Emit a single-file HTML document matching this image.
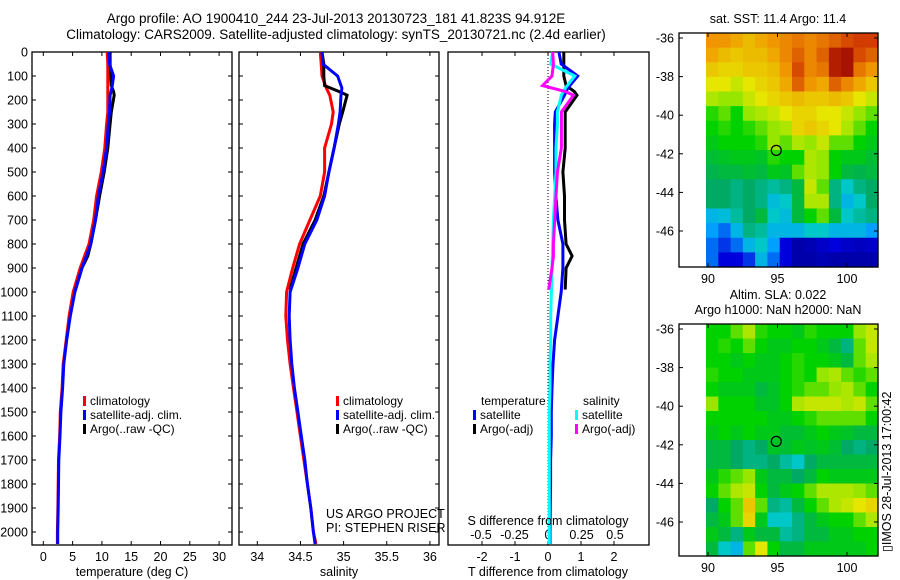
<!DOCTYPE html>
<html><head><meta charset="utf-8"><style>
html,body{margin:0;padding:0;background:#fff;}
svg{display:block;font-family:"Liberation Sans",sans-serif;}
text{fill:#000;}
</style></head><body>
<svg id="fig" width="900" height="580" viewBox="0 0 900 580">
<text x="336" y="23" font-size="13.5" text-anchor="middle">Argo profile: AO 1900410_244 23-Jul-2013 20130723_181 41.823S 94.912E</text>
<text x="336" y="39" font-size="13.5" text-anchor="middle">Climatology: CARS2009. Satellite-adjusted climatology: synTS_20130721.nc (2.4d earlier)</text>
<g id="p1"></g>
<g id="p2"></g>
<g id="p3"></g>
<g id="m1"></g>
<g id="m2"></g>
<text x="778" y="23" font-size="12.5" text-anchor="middle">sat. SST: 11.4 Argo: 11.4</text>
<text x="778" y="299" font-size="12.5" text-anchor="middle">Altim. SLA: 0.022</text>
<text x="778" y="314" font-size="12.5" text-anchor="middle">Argo h1000: NaN h2000: NaN</text>
<text transform="translate(891,552) rotate(-90)" font-size="12.5">▯IMOS 28-Jul-2013 17:00:42</text>
<text x="326" y="518" font-size="12.5">US ARGO PROJECT</text>
<text x="326" y="532" font-size="12.5">PI: STEPHEN RISER</text>
</svg>
<script>
// ---- data ----
const depthTicks=[0,100,200,300,400,500,600,700,800,900,1000,1100,1200,1300,1400,1500,1600,1700,1800,1900,2000];
const tempTicks=[0,5,10,15,20,25,30];
const salTicks=[34,34.5,35,35.5,36];
const tdiffTicks=[-2,-1,0,1,2];
const sdiffTicks=[-0.5,-0.25,0,0.25,0.5];
const climDepth=[0,50,100,150,180,250,300,400,500,600,700,800,900,1000,1100,1200,1300,1400,1500,1600,1700,1800,1900,2000,2050];
const climTemp=[10.9,11.0,11.0,11.0,11.0,11.0,10.8,10.5,9.9,9.1,8.6,7.8,6.3,5.1,4.4,3.9,3.4,3.2,2.9,2.8,2.6,2.55,2.5,2.4,2.4];
const satTemp=[11.2,11.3,12.0,11.7,11.4,11.3,11.1,10.8,10.2,9.4,8.9,8.1,6.6,5.4,4.6,4.0,3.5,3.3,3.0,2.85,2.65,2.6,2.55,2.45,2.45];
const climSal=[34.73,34.74,34.75,34.80,34.84,34.88,34.86,34.78,34.78,34.73,34.61,34.49,34.41,34.34,34.33,34.35,34.38,34.42,34.46,34.50,34.54,34.58,34.62,34.65,34.68];
const satSal=[34.75,34.76,34.93,34.98,34.97,34.96,34.94,34.89,34.83,34.78,34.69,34.55,34.47,34.38,34.37,34.38,34.40,34.43,34.47,34.51,34.55,34.58,34.62,34.65,34.67];
const argoDepth=[0,50,100,140,165,180,250,300,400,500,600,700,800,850,900,990];
const argoTemp=[11.4,11.4,11.5,11.6,12.0,12.1,11.6,11.4,11.0,10.4,9.6,8.9,8.1,7.6,6.6,5.5];
const argoSal=[34.75,34.77,34.77,34.78,34.95,35.04,34.99,34.95,34.89,34.83,34.77,34.67,34.53,34.49,34.45,34.38];
const satDiffT=[0.33,0.4,0.9,0.6,0.5,0.22,0.2,0.2,0.2,0.24,0.3,0.45,0.45,0.4,0.3,0.2,0.15,0.12,0.1,0.1,0.08,0.08,0.07,0.06,0.06];
const argoDiffT=[0.48,0.48,0.48,0.55,0.8,0.88,0.52,0.52,0.52,0.45,0.5,0.5,0.55,0.73,0.55,0.52];
const satDiffS=[0.035,0.02,0.2,0.13,0.1,0.07,0.07,0.06,0.06,0.05,0.04,0.035,0.03,0.025,0.02,0.02,0.015,0.015,0.01,0.01,0.01,0.01,0.01,0.01,0.01];
const argoDiffS=[0.035,0.04,0.03,-0.04,0.13,0.19,0.1,0.1,0.1,0.07,0.06,0.05,0.04,0.04,0.03,0.005];
const sstGrid=[
[.78,.78,.75,.72,.75,.78,.8,.82,.8,.82,.85,.88,.9,.9],
[.75,.72,.7,.72,.72,.75,.8,.85,.8,.85,.95,.97,.88,.85],
[.7,.68,.68,.7,.7,.72,.78,.88,.8,.82,.95,.97,.82,.78],
[.65,.65,.62,.65,.68,.7,.75,.85,.78,.75,.85,.8,.75,.7],
[.6,.58,.58,.62,.65,.68,.7,.72,.7,.7,.72,.7,.65,.62],
[.52,.55,.5,.58,.6,.62,.65,.68,.68,.65,.65,.62,.58,.55],
[.5,.52,.5,.52,.55,.58,.6,.68,.7,.68,.65,.6,.55,.5],
[.48,.5,.5,.5,.52,.58,.55,.6,.58,.62,.55,.55,.5,.48],
[.46,.47,.48,.48,.47,.52,.5,.5,.6,.58,.5,.48,.48,.46],
[.44,.45,.45,.46,.45,.48,.47,.55,.6,.58,.5,.45,.44,.45],
[.42,.42,.4,.42,.4,.38,.4,.45,.62,.55,.4,.35,.4,.42],
[.42,.42,.4,.42,.4,.32,.35,.45,.6,.6,.4,.3,.35,.42],
[.3,.32,.38,.42,.45,.35,.32,.45,.5,.55,.45,.35,.38,.4],
[.25,.2,.3,.4,.38,.3,.3,.3,.35,.35,.3,.3,.3,.25],
[.2,.15,.2,.3,.35,.25,.1,.05,.06,.08,.1,.08,.07,.08],
[.2,.1,.1,.15,.3,.2,.1,.05,.05,.06,.05,.05,.05,.05]];
const slaGrid=[
[.5,.5,.55,.6,.52,.5,.5,.48,.52,.5,.5,.5,.58,.62],
[.5,.52,.5,.55,.5,.48,.48,.5,.5,.48,.45,.4,.55,.62],
[.5,.5,.48,.5,.48,.48,.5,.52,.5,.5,.48,.45,.55,.6],
[.52,.5,.5,.48,.48,.48,.5,.52,.5,.58,.6,.55,.52,.55],
[.5,.48,.48,.48,.45,.47,.5,.52,.55,.55,.58,.6,.55,.5],
[.58,.5,.5,.5,.47,.47,.5,.6,.62,.62,.62,.6,.62,.55],
[.5,.5,.5,.5,.5,.48,.48,.5,.52,.55,.55,.55,.55,.5],
[.48,.5,.48,.5,.48,.48,.46,.46,.48,.5,.48,.47,.45,.45],
[.45,.45,.42,.4,.42,.47,.46,.48,.47,.48,.46,.42,.4,.42],
[.45,.45,.42,.4,.4,.42,.38,.35,.42,.45,.45,.45,.45,.45],
[.48,.52,.55,.58,.48,.45,.45,.42,.45,.5,.48,.48,.48,.48],
[.5,.55,.6,.62,.5,.45,.48,.5,.55,.6,.6,.6,.58,.55],
[.42,.5,.55,.7,.55,.4,.38,.45,.5,.55,.6,.62,.65,.68],
[.45,.48,.55,.68,.48,.35,.35,.4,.45,.48,.5,.5,.55,.6],
[.48,.45,.4,.48,.45,.45,.38,.4,.45,.45,.48,.48,.5,.5],
[.45,.35,.3,.55,.65,.5,.45,.45,.48,.48,.48,.48,.48,.5]];
const latTicks=[-36,-38,-40,-42,-44,-46];
const lonTicks=[90,95,100];
const argoLon=94.912, argoLat=-41.823;

// ---- helpers ----
const NS='http://www.w3.org/2000/svg';
function mk(parent,tag,attrs){const e=document.createElementNS(NS,tag);for(const k in attrs)e.setAttribute(k,attrs[k]);parent.appendChild(e);return e;}
const TOP=52,BOT=545;
const yD=d=>TOP+d*0.24;
function panelFrame(g,x0,x1,xs,ticks,labelY,label,prefix){
  const r=mk(g,'rect',{x:x0,y:TOP,width:x1-x0,height:BOT-TOP,fill:'none',stroke:'#000','stroke-width':1.3});
  
  
  depthTicks.forEach(d=>{
    mk(g,'line',{x1:x0,x2:x0+4,y1:yD(d),y2:yD(d),stroke:'#000'});
    mk(g,'line',{x1:x1,x2:x1-4,y1:yD(d),y2:yD(d),stroke:'#000'});
  });
  ticks.forEach(v=>{
    const x=xs(v);
    mk(g,'line',{x1:x,x2:x,y1:BOT,y2:BOT-4,stroke:'#000'});
    mk(g,'line',{x1:x,x2:x,y1:TOP,y2:TOP+4,stroke:'#000'});
    const t=mk(g,'text',{x:x,y:labelY,'font-size':12.5,'text-anchor':'middle'});
    t.textContent=String(v);
    
    
  });
  const xl=mk(g,'text',{x:(x0+x1)/2,y:576,'font-size':12.5,'text-anchor':'middle'});
  xl.textContent=label;
  
  
}
function line(g,xs,vals,deps,color,name){
  const pts=vals.map((v,i)=>xs(v).toFixed(1)+','+yD(deps[i]).toFixed(1)).join(' ');
  const p=mk(g,'polyline',{points:pts,fill:'none',stroke:color,'stroke-width':3,'stroke-linejoin':'miter'});
  
  
}
function legend(g,x,y,color,label,name){
  mk(g,'rect',{x:x,y:y-9,width:3,height:10,fill:color});
  const t=mk(g,'text',{x:x+7,y:y,'font-size':12,'textLength':0});
  t.removeAttribute('textLength');
  t.textContent=label;
  
  
}

// ---- panel 1: temperature ----
const p1=document.getElementById('p1');
const xT=v=>43.3+5.86*v;
panelFrame(p1,32,232,xT,tempTicks,561,'temperature (deg C)','temperature');
depthTicks.forEach(d=>{
  const t=mk(p1,'text',{x:28,y:yD(d)+4.5,'font-size':12.5,'text-anchor':'end'});
  t.textContent=String(d);
  
  
});
line(p1,xT,climTemp,climDepth,'#f00','temp-climatology-line');
line(p1,xT,argoTemp,argoDepth,'#000','temp-argo-line');
line(p1,xT,satTemp,climDepth,'#00f','temp-satellite-line');
legend(p1,83,405,'#f00','climatology','legend-climatology');
legend(p1,83,419,'#00f','satellite-adj. clim.','legend-satellite');
legend(p1,83,433,'#000','Argo(..raw -QC)','legend-argo');

// ---- panel 2: salinity ----
const p2=document.getElementById('p2');
const xS=v=>257.3+86.3*(v-34);
panelFrame(p2,239,439,xS,salTicks,561,'salinity','salinity');
line(p2,xS,climSal,climDepth,'#f00','sal-climatology-line');
line(p2,xS,argoSal,argoDepth,'#000','sal-argo-line');
line(p2,xS,satSal,climDepth,'#00f','sal-satellite-line');
legend(p2,336,405,'#f00','climatology','legend-climatology');
legend(p2,336,419,'#00f','satellite-adj. clim.','legend-satellite');
legend(p2,336,433,'#000','Argo(..raw -QC)','legend-argo');

// ---- panel 3: differences ----
const p3=document.getElementById('p3');
const xDT=v=>548+33*v;
const xDS=v=>548+134*v;
const r3=mk(p3,'rect',{x:448,y:TOP,width:201,height:BOT-TOP,fill:'none',stroke:'#000','stroke-width':1.3});


tdiffTicks.forEach(v=>{
  mk(p3,'line',{x1:xDT(v),x2:xDT(v),y1:BOT,y2:BOT-4,stroke:'#000'});
  mk(p3,'line',{x1:xDT(v),x2:xDT(v),y1:TOP,y2:TOP+4,stroke:'#000'});
  const t=mk(p3,'text',{x:xDT(v),y:561,'font-size':12.5,'text-anchor':'middle'});
  t.textContent=String(v);
  
  
});
sdiffTicks.forEach(v=>{
  const t=mk(p3,'text',{x:xDS(v),y:539,'font-size':12.5,'text-anchor':'middle'});
  t.textContent=String(v);
  
  
});
mk(p3,'line',{x1:xDT(0),x2:xDT(0),y1:TOP,y2:BOT,stroke:'#000','stroke-dasharray':'1,2'});
line(p3,xDT,argoDiffT,argoDepth,'#000','tdiff-argo-line');
line(p3,xDT,satDiffT,climDepth,'#00f','tdiff-satellite-line');
line(p3,xDS,satDiffS,climDepth,'#0ff','sdiff-satellite-line');
line(p3,xDS,argoDiffS,argoDepth,'#f0f','sdiff-argo-line');
const st=mk(p3,'text',{x:548,y:525,'font-size':12.5,'text-anchor':'middle'});
st.textContent='S difference from climatology';


const tt=mk(p3,'text',{x:548,y:576,'font-size':12.5,'text-anchor':'middle'});
tt.textContent='T difference from climatology';


const lt=mk(p3,'text',{x:481,y:405,'font-size':12});
lt.textContent='temperature';


const ls=mk(p3,'text',{x:583,y:405,'font-size':12});
ls.textContent='salinity';


legend(p3,473,419,'#00f','satellite','legend-t-satellite');
legend(p3,473,433,'#000','Argo(-adj)','legend-t-argo');
legend(p3,575,419,'#0ff','satellite','legend-s-satellite');
legend(p3,575,433,'#f0f','Argo(-adj)','legend-s-argo');

// ---- maps ----
const palStops=[0,0.1,0.25,0.35,0.42,0.5,0.58,0.65,0.78,0.9,1];
const palCols=[[0,0,120],[0,0,220],[0,160,255],[0,200,200],[0,170,100],[0,210,0],[150,230,0],[230,230,0],[240,150,0],[210,60,0],[150,0,0]];
function jet(f){
  f=Math.max(0,Math.min(1,f));
  let i=0;while(i<palStops.length-2&&f>palStops[i+1])i++;
  const t=(f-palStops[i])/(palStops[i+1]-palStops[i]);
  const c=palCols[i].map((a,k)=>Math.round(a+(palCols[i+1][k]-a)*t));
  return 'rgb('+c.join(',')+')';
}
function drawMap(g,grid,top,bottom,latTop,prefix){
  const L=679,R=878,dx0=706,lonX=v=>708+13.9*(v-90),latY=v=>top+5+19.3*(latTop-v);
  const rows=grid.length,cols=grid[0].length,cw=(R-dx0)/cols,ch=(bottom-top)/rows;
  grid.forEach((row,i)=>row.forEach((v,j)=>{
    const c=mk(g,'rect',{x:(dx0+j*cw).toFixed(2),y:(top+i*ch).toFixed(2),width:(cw+0.6).toFixed(2),height:(ch+0.6).toFixed(2),fill:jet(v)});
    
    
  }));
  const f=mk(g,'rect',{x:L,y:top,width:R-L,height:bottom-top,fill:'none',stroke:'#000','stroke-width':1.3});
  
  
  latTicks.forEach(v=>{
    const y=latY(v);
    mk(g,'line',{x1:L,x2:L+4,y1:y,y2:y,stroke:'#000'});
    mk(g,'line',{x1:R,x2:R-4,y1:y,y2:y,stroke:'#000'});
    const t=mk(g,'text',{x:674,y:y+4.5,'font-size':12.5,'text-anchor':'end'});
    t.textContent=String(v);
    
    
  });
  lonTicks.forEach(v=>{
    const x=lonX(v);
    mk(g,'line',{x1:x,x2:x,y1:bottom,y2:bottom-4,stroke:'#000'});
    mk(g,'line',{x1:x,x2:x,y1:top,y2:top+4,stroke:'#000'});
    const t=mk(g,'text',{x:x,y:bottom+16,'font-size':12.5,'text-anchor':'middle'});
    t.textContent=String(v);
    
    
  });
  const m=mk(g,'circle',{cx:lonX(argoLon),cy:latY(argoLat),r:5,fill:'none',stroke:'#000','stroke-width':1.2});
  
  
}
drawMap(document.getElementById('m1'),sstGrid,33,267,-36,'sst-map');
drawMap(document.getElementById('m2'),slaGrid,324,556,-36,'sla-map');
</script>
</body></html>
